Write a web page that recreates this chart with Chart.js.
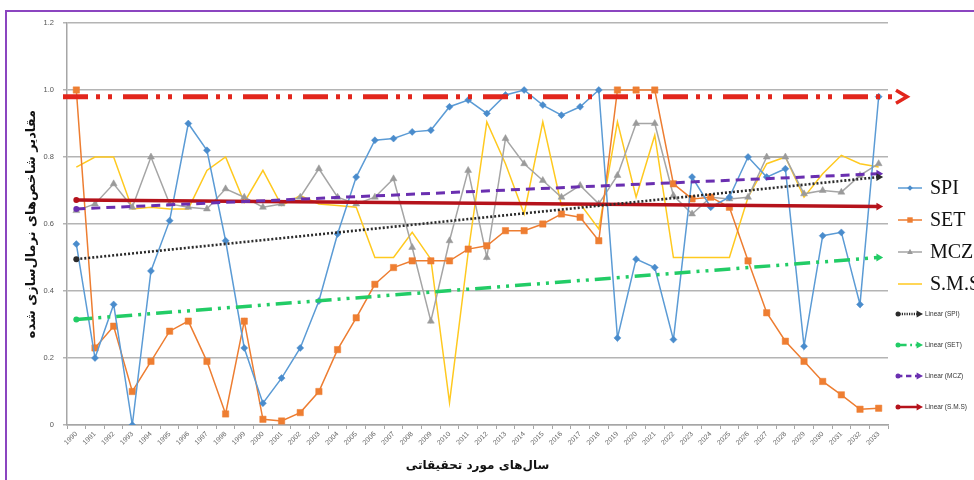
<!DOCTYPE html>
<html><head><meta charset="utf-8">
<script src="https://cdn.jsdelivr.net/npm/chart.js@4/dist/chart.umd.min.js"></script>
<style>
html,body{margin:0;padding:0;background:#fff;overflow:hidden}
#wrap{position:relative;width:974px;height:480px;overflow:hidden}
#frame{position:absolute;left:5px;top:10px;width:990px;height:490px;border-left:2px solid #8b45c0;border-top:2px solid #8b45c0;box-sizing:border-box;pointer-events:none}
canvas{position:absolute;left:0;top:0}
</style></head><body>
<div id="wrap"><canvas id="c" width="974" height="480"></canvas><div id="frame"></div></div>
<script>
// ---- data ----
const years = ['1990','1991','1992','1993','1994','1995','1996','1997','1998','1999',
               '2000','2001','2002','2003','2004','2005','2006','2007','2008','2009',
               '2010','2011','2012','2013','2014','2015','2016','2017','2018','2019',
               '2020','2021','2022','2023','2024','2025','2026','2027','2028','2029',
               '2030','2031','2032','2033'];
const spi = [0.54,0.20,0.36,0.00,0.46,0.61,0.90,0.82,0.55,0.23,
             0.065,0.14,0.23,0.37,0.57,0.74,0.85,0.855,0.875,0.88,
             0.95,0.97,0.93,0.985,1.00,0.955,0.925,0.95,1.00,0.26,
             0.495,0.47,0.255,0.74,0.65,0.68,0.80,0.74,0.765,0.235,
             0.565,0.575,0.36,0.98];
const set = [1.00,0.23,0.295,0.10,0.19,0.28,0.31,0.19,0.033,0.31,
             0.017,0.012,0.037,0.10,0.225,0.32,0.42,0.47,0.49,0.49,
             0.49,0.525,0.535,0.58,0.58,0.60,0.63,0.62,0.55,1.00,
             1.00,1.00,0.72,0.675,0.68,0.65,0.49,0.335,0.25,0.19,
             0.13,0.09,0.047,0.05];
const mcz = [0.64,0.66,0.72,0.65,0.80,0.66,0.65,0.645,0.705,0.68,
             0.65,0.66,0.68,0.765,0.68,0.66,0.68,0.735,0.53,0.31,
             0.55,0.76,0.50,0.855,0.78,0.73,0.68,0.715,0.66,0.745,
             0.90,0.90,0.685,0.63,0.68,0.675,0.68,0.80,0.80,0.69,
             0.70,0.695,0.745,0.78];
const sms = [0.77,0.80,0.80,0.645,0.65,0.645,0.645,0.76,0.80,0.665,
             0.76,0.655,0.685,0.66,0.655,0.65,0.50,0.50,0.575,0.495,
             0.067,0.515,0.905,0.78,0.63,0.905,0.655,0.66,0.585,0.905,
             0.68,0.865,0.50,0.50,0.50,0.50,0.68,0.78,0.80,0.68,
             0.75,0.805,0.78,0.77];
// linear trend lines: value at first and last year
const trendSPI = [0.495, 0.74];
const trendSET = [0.315, 0.50];
const trendMCZ = [0.645, 0.75];
const trendSMS = [0.672, 0.652];
const threshold = 0.98;
const seriesNames = ['SPI','SET','MCZ','S.M.S'];
const trendNames = ['Linear (SPI)','Linear (SET)','Linear (MCZ)','Linear (S.M.S)'];
const yTicks = {min:0, max:1.2, step:0.2};
const yTitle = 'مقادیر شاخص‌های نرمال‌سازی شده';
const xTitle = 'سال‌های مورد تحقیقاتی';

// ---- chart ----
const last = years.length - 1;
const ends = (pair) => years.map((_, i) => i === 0 ? pair[0] : (i === last ? pair[1] : null));
const endArr = (a, b) => years.map((_, i) => i === last ? b : a);

const seriesStyles = [
  {color:'#5b9bd5', fill:'#4a8ccc', style:'rectRot', r:3.5},
  {color:'#ed7d31', fill:'#ee7e32', style:'rect', r:4.5},
  {color:'#a5a5a5', fill:'#9a9a9a', style:'triangle', r:4},
  {color:'#ffc91f', fill:'#ffc91f', style:'circle', r:0}
];
const trendStyles = [
  {color:'#2b2b2b', dash:[2,2], w:2.6, start:'circle'},
  {color:'#22cc66', dash:[16,6,3,6,3,6], w:3.5, start:'circle'},
  {color:'#6a2fb0', dash:[9,6], w:3, start:'circle'},
  {color:'#b5121b', dash:[], w:3.5, start:'circle'}
];
const seriesData = [spi, set, mcz, sms];
const trendData = [trendSPI, trendSET, trendMCZ, trendSMS];

const datasets = [];
seriesData.forEach((d, i) => {
  const s = seriesStyles[i];
  datasets.push({
    label: seriesNames[i], data: d, borderColor: s.color, backgroundColor: s.fill,
    borderWidth: 1.5, pointStyle: s.style, pointRadius: s.r, pointBorderWidth: 0.5,
    pointBorderColor: s.fill, tension: 0, order: 10 + i
  });
});
trendData.forEach((d, i) => {
  const s = trendStyles[i];
  datasets.push({
    label: trendNames[i], data: ends(d), spanGaps: true, borderColor: s.color,
    backgroundColor: s.color, borderWidth: s.w, borderDash: s.dash,
    pointStyle: endArr(s.start, 'triangle'), pointRotation: endArr(0, 90),
    pointRadius: endArr(3, 4.5), pointBorderWidth: 0, order: 1 + i
  });
});

function drawMarker(ctx, style, x, y, r, color) {
  if (!r) return;
  ctx.save(); ctx.fillStyle = color; ctx.setLineDash([]); ctx.beginPath();
  if (style === 'rectRot') { ctx.moveTo(x, y - r); ctx.lineTo(x + r, y); ctx.lineTo(x, y + r); ctx.lineTo(x - r, y); }
  else if (style === 'rect') { ctx.rect(x - r * 0.75, y - r * 0.75, r * 1.5, r * 1.5); }
  else if (style === 'triangle') { ctx.moveTo(x, y - r); ctx.lineTo(x + r * 0.9, y + r * 0.6); ctx.lineTo(x - r * 0.9, y + r * 0.6); }
  else if (style === 'arrow') { ctx.moveTo(x + r, y); ctx.lineTo(x - r * 0.6, y - r * 0.9); ctx.lineTo(x - r * 0.6, y + r * 0.9); }
  else { ctx.arc(x, y, r, 0, Math.PI * 2); }
  ctx.closePath(); ctx.fill(); ctx.restore();
}

const extras = {
  id: 'extras',
  afterDatasetsDraw(chart) {
    const ctx = chart.ctx, ca = chart.chartArea;
    const y = chart.scales.y.getPixelForValue(threshold);
    const x0 = ca.left - 4, x1 = ca.right + 6;
    ctx.save();
    ctx.strokeStyle = '#e2261c'; ctx.lineWidth = 5; ctx.setLineDash([25,8,4,8,4,11]);
    ctx.beginPath(); ctx.moveTo(x0, y); ctx.lineTo(x1, y); ctx.stroke();
    ctx.setLineDash([]); ctx.lineWidth = 3.5; ctx.lineJoin = 'miter';
    ctx.beginPath(); ctx.moveTo(x1 + 2, y - 6.5); ctx.lineTo(x1 + 13, y); ctx.lineTo(x1 + 2, y + 6.5); ctx.stroke();
    ctx.restore();
  },
  afterDraw(chart) {
    const ctx = chart.ctx, ca = chart.chartArea;
    const lx0 = ca.right + 10, lx1 = ca.right + 34;
    let ly = 188;
    const step = 32;
    ctx.save();
    seriesNames.forEach((n, i) => {
      const s = seriesStyles[i];
      ctx.strokeStyle = s.color; ctx.lineWidth = 1.5; ctx.setLineDash([]);
      ctx.beginPath(); ctx.moveTo(lx0, ly); ctx.lineTo(lx1, ly); ctx.stroke();
      drawMarker(ctx, s.style, (lx0 + lx1) / 2, ly, s.r * 0.8, s.fill);
      ctx.fillStyle = '#111'; ctx.font = '20px "Liberation Serif", "Times New Roman", serif';
      ctx.textBaseline = 'middle'; ctx.textAlign = 'left';
      ctx.fillText(n, ca.right + 42, ly + 1);
      ly += step;
    });
    ly -= 2;
    trendNames.forEach((n, i) => {
      const s = trendStyles[i];
      ctx.strokeStyle = s.color; ctx.lineWidth = Math.min(s.w, 2.5); ctx.setLineDash(s.dash.map(v => v * 0.6));
      ctx.beginPath(); ctx.moveTo(lx0 - 1, ly); ctx.lineTo(lx1 - 4, ly); ctx.stroke();
      drawMarker(ctx, 'circle', lx0, ly, 2.5, s.color);
      drawMarker(ctx, 'arrow', lx1 - 3, ly, 4, s.color);
      ctx.fillStyle = '#333'; ctx.font = '6.5px "Liberation Sans", Arial, sans-serif';
      ctx.textBaseline = 'middle'; ctx.textAlign = 'left';
      ctx.fillText(n, ca.right + 37, ly);
      ly += 31;
    });
    ctx.restore();
  }
};

new Chart(document.getElementById('c'), {
  type: 'line',
  data: { labels: years, datasets },
  plugins: [extras],
  options: {
    responsive: false, animation: false, devicePixelRatio: 1,
    layout: { padding: { left: 10, right: 86, top: 23, bottom: 0 } },
    plugins: { legend: { display: false }, tooltip: { enabled: false } },
    scales: {
      x: {
        offset: true,
        afterFit: (s) => { s.height = 55; },
        grid: { display: true, drawOnChartArea: false, drawTicks: true, tickLength: 4, color: '#a6a6a6', offset: true },
        border: { display: true, color: '#a6a6a6', width: 1.5 },
        ticks: { autoSkip: false, maxRotation: 45, minRotation: 45, padding: 1, color: '#666',
                 font: { size: 7, family: '"Liberation Sans", Arial, sans-serif' } },
        title: { display: true, text: xTitle, color: '#111', padding: { top: 0, bottom: 7 },
                 font: { size: 12, weight: 'bold', family: '"DejaVu Sans", sans-serif' } }
      },
      y: {
        min: yTicks.min, max: yTicks.max,
        afterFit: (s) => { s.width = 57; },
        grid: { color: '#b4b4b4', lineWidth: 1.5, drawTicks: true, tickLength: 4 },
        border: { display: true, color: '#a6a6a6', width: 1.5 },
        ticks: { stepSize: yTicks.step, padding: 9, color: '#555',
                 font: { size: 7.5, family: '"Liberation Sans", Arial, sans-serif' } },
        title: { display: true, text: yTitle, color: '#111', padding: { top: 14, bottom: 0 },
                 font: { size: 13, weight: 'bold', family: '"DejaVu Sans", sans-serif' } }
      }
    }
  }
});
</script>
</body></html>
